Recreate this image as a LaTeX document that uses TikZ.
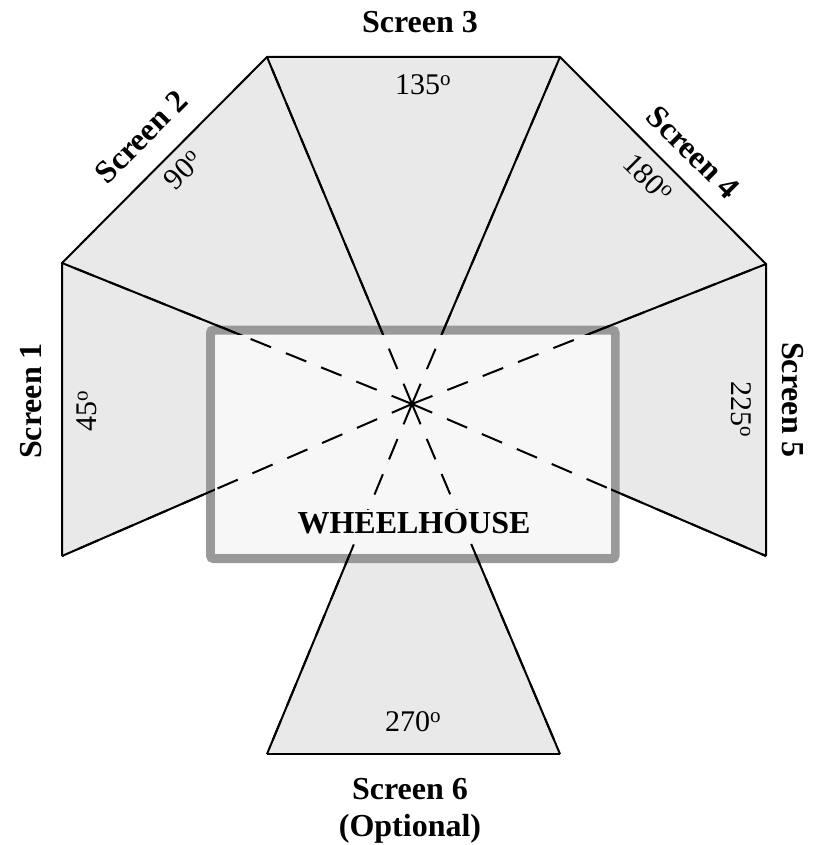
\documentclass[tikz,border=0pt]{standalone}
\usepackage{fontspec}
\setmainfont{Liberation Serif}
\definecolor{scr}{HTML}{E9E9E9}
\definecolor{whfill}{HTML}{F7F7F7}
\definecolor{whborder}{HTML}{999999}
\begin{document}
\begin{tikzpicture}[x=1pt,y=-1pt,
  ray/.style={black,line width=2pt},
  rayin/.style={black,line width=2pt,dash pattern=on 22pt off 16pt},
  screenline/.style={black,line width=2pt},
  lab/.style={font=\fontsize{32}{37}\selectfont\bfseries,inner sep=0pt},
  deg/.style={font=\fontsize{30}{34}\selectfont,inner sep=0pt}]
\useasboundingbox (0,0) rectangle (812,845);
\coordinate (c) at (412,404);
\coordinate (p1) at (62,263);
\coordinate (p2) at (62,556);
\coordinate (p3) at (267,57);
\coordinate (p4) at (560,57);
\coordinate (p5) at (766,264);
\coordinate (p6) at (766,556);
\coordinate (p7) at (267,754);
\coordinate (p8) at (560,754);
% screen fans
\fill[scr] (c) -- (p1) -- (p2) -- cycle;
\fill[scr] (c) -- (p1) -- (p3) -- cycle;
\fill[scr] (c) -- (p3) -- (p4) -- cycle;
\fill[scr] (c) -- (p4) -- (p5) -- cycle;
\fill[scr] (c) -- (p5) -- (p6) -- cycle;
\fill[scr] (c) -- (p7) -- (p8) -- cycle;
% wheelhouse
\draw[whborder,fill=whfill,line width=9pt,rounded corners=3pt] (210.5,330) rectangle (615,558.5);
% screens and rays
\draw[screenline,line join=miter] (p2) -- (p1) -- (p3) -- (p4) -- (p5) -- (p6);
\draw[screenline] (p7) -- (p8);
\foreach \p in {p1,p2,p3,p4,p5,p6,p7,p8} \draw[ray] (\p) -- (c);
\fill[whfill] (215,334.5) rectangle (610.5,554);
\foreach \p in {p1,p2,p3,p4,p5,p6,p7,p8} \draw[rayin] (c) -- (\p);
\node (wh) [lab,fill=whfill,inner sep=2pt] at (414,523) {WHEELHOUSE};
% labels
\node (s1) [lab,rotate=90] at (31,401) {Screen 1};
\node (s2) [lab,rotate=45] at (141,137) {Screen 2};
\node (s3) [lab] at (420,22) {Screen 3};
\node (s4) [lab,rotate=-45] at (693,152) {Screen 4};
\node (s5) [lab,rotate=-90] at (793,400) {Screen 5};
\node (s6) [lab,align=center] at (410,811) {Screen 6\\(Optional)};
\node (d1) [deg,rotate=90] at (87,411) {45\textsuperscript{o}};
\node (d2) [deg,rotate=45] at (183,170) {90\textsuperscript{o}};
\node (d3) [deg] at (423,85) {135\textsuperscript{o}};
\node (d4) [deg,rotate=-45] at (648,178) {180\textsuperscript{o}};
\node (d5) [deg,rotate=-90] at (741,409) {225\textsuperscript{o}};
\node (d6) [deg] at (413,722) {270\textsuperscript{o}};
\end{tikzpicture}
\end{document}
